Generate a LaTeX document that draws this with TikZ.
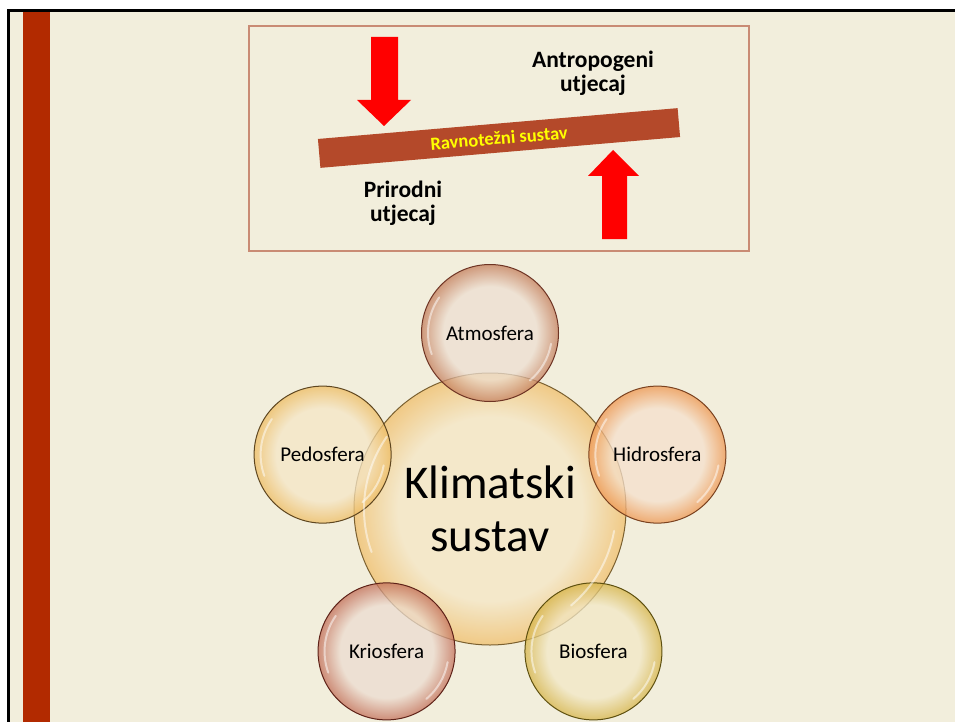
\documentclass[tikz,border=0pt]{standalone}
\usepackage{fontspec}
\setmainfont{Carlito}
\usetikzlibrary{calc}

\definecolor{slidebg}{HTML}{F2EEDC}
\definecolor{stripe}{HTML}{B22A00}
\definecolor{panelline}{HTML}{C98B74}
\definecolor{beam}{HTML}{B4492A}
\definecolor{beamtext}{HTML}{FFFF00}
\definecolor{pushred}{HTML}{FF0000}
% bubble colours: inner / rim / outline
\definecolor{klimain}{HTML}{F5E6C4}\definecolor{klimarim}{HTML}{F0BE6A}\definecolor{klimaline}{HTML}{7A6030}
\definecolor{atmoin}{HTML}{EDDFD2}\definecolor{atmorim}{HTML}{C47E5C}\definecolor{atmoline}{HTML}{6E3424}
\definecolor{hidroin}{HTML}{F5E0CC}\definecolor{hidrorim}{HTML}{EE9650}\definecolor{hidroline}{HTML}{7A4220}
\definecolor{pedoin}{HTML}{F5E6C6}\definecolor{pedorim}{HTML}{EEBC62}\definecolor{pedoline}{HTML}{5E4620}
\definecolor{krioin}{HTML}{ECDCD0}\definecolor{kriorim}{HTML}{C26E58}\definecolor{krioline}{HTML}{5E2218}
\definecolor{bioin}{HTML}{F2E8C6}\definecolor{biorim}{HTML}{D6B448}\definecolor{bioline}{HTML}{5E5010}

\pgfdeclareradialshading[bubin,bubout]{bubble}{\pgfpoint{0bp}{0bp}}{color(0bp)=(bubin); color(17bp)=(bubin); color(25bp)=(bubout); color(50bp)=(bubout)}

\tikzset{
  bubble/.style n args={3}{circle, inner sep=0pt, draw=#3, line width=1pt,
    /utils/exec={\colorlet{bubin}{#1}\colorlet{bubout}{#2}},
    shade, shading=bubble, fill opacity=0.75, text opacity=1,
    font=\fontsize{21}{24}\selectfont},
  small/.style={minimum size=137pt},
  gloss/.style={white, opacity=0.5, line width=2pt, line cap=round},
  heading/.style={font=\bfseries\fontsize{23.5}{24}\selectfont, align=center}
}

\begin{document}
\begin{tikzpicture}[x=1pt,y=-1pt]
\useasboundingbox (0,0) rectangle (955,722);
% slide background
\fill[white] (0,0) rectangle (955,722);
\fill[slidebg] (9,11) rectangle (955,722);
\fill[stripe] (23,12) rectangle (50,722);
\draw[line width=3pt] (8.5,722) -- (8.5,10.5) -- (955,10.5);

% top panel
\node[draw=panelline, line width=1.3pt, minimum width=500pt, minimum height=225pt, inner sep=0pt] (panel) at (499,138.5) {};
\fill[pushred] (371,37) -- (398,37) -- (398,100) -- (411,100) -- (384,126) -- (357,100) -- (371,100) -- cycle;
\fill[pushred] (602,239) -- (627,239) -- (627,176) -- (639,176) -- (613,150) -- (588,176) -- (602,176) -- cycle;
\node[fill=beam, rotate=4.9, minimum width=361pt, minimum height=29pt, inner sep=0pt,
  text=beamtext, font=\bfseries\fontsize{18.5}{20}\selectfont] (ravnoteza) at (499,138) {Ravnotežni sustav};
\node[heading] (antro) at (593,73) {Antropogeni\\utjecaj};
\node[heading] (prirod) at (403,203) {Prirodni\\utjecaj};

% climate system
\node[bubble={klimain}{klimarim}{klimaline}, minimum size=272pt,
  font=\fontsize{47}{53}\selectfont, align=center] (klima) at (490,509) {Klimatski\\sustav};
\node[bubble={atmoin}{atmorim}{atmoline}, small] (atmo) at ($(klima)+(-90:176)$) {Atmosfera};
\node[bubble={hidroin}{hidrorim}{hidroline}, small] (hidro) at ($(klima)+(-18:176)$) {Hidrosfera};
\node[bubble={bioin}{biorim}{bioline}, small] (bio) at ($(klima)+(54:176)$) {Biosfera};
\node[bubble={krioin}{kriorim}{krioline}, small] (krio) at ($(klima)+(126:176)$) {Kriosfera};
\node[bubble={pedoin}{pedorim}{pedoline}, small] (pedo) at ($(klima)+(198:176)$) {Pedosfera};
% highlights
\foreach \n/\r in {klima/126,atmo/62,hidro/62,bio/62,krio/62,pedo/62} {
  \draw[gloss] ($(\n.center)+(160:\r)$) arc[start angle=160, end angle=215, radius=\r];
  \draw[gloss] ($(\n.center)+(10:\r)$) arc[start angle=10, end angle=50, radius=\r];
}
\end{tikzpicture}
\end{document}
